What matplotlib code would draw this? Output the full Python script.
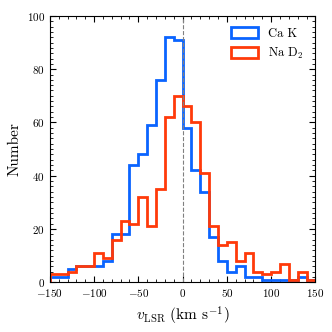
import numpy as np
import matplotlib
matplotlib.use('Agg')
import matplotlib.pyplot as plt

plt.rcParams['font.family'] = 'serif'
plt.rcParams['font.serif'] = ['cmr10', 'DejaVu Serif']
plt.rcParams['mathtext.fontset'] = 'cm'
plt.rcParams['axes.formatter.use_mathtext'] = True

# bin edges (km/s) and counts per bin
bin_edges = np.arange(-150, 151, 10)
ca_k = [2, 2, 5, 6, 6, 6, 8, 18, 18, 44, 48, 59, 76, 92, 91,
        58, 42, 34, 17, 8, 4, 6, 2, 2, 1, 1, 1, 1, 2, 1]
na_d2 = [3, 3, 4, 6, 6, 11, 9, 16, 23, 22, 32, 21, 35, 62, 70,
         66, 60, 41, 21, 14, 15, 8, 11, 4, 3, 4, 7, 1, 4, 1]

blue = '#0a64ff'
red = '#ff3a0a'

fig, ax = plt.subplots(figsize=(3.32, 3.32), dpi=100)
fig.subplots_adjust(left=0.15, right=0.95, bottom=0.15, top=0.952)

centers = 0.5 * (bin_edges[:-1] + bin_edges[1:])
ax.hist(centers, bins=bin_edges, weights=ca_k, histtype='step',
        color=blue, lw=2, label='Ca K')
ax.hist(centers, bins=bin_edges, weights=na_d2, histtype='step',
        color=red, lw=2, label='Na D$_2$')
ax.axvline(0, color='gray', ls='--', lw=0.8)

ax.set_xlim(-150, 150)
ax.set_ylim(0, 100)
ax.set_xticks(np.arange(-150, 151, 50))
ax.set_xticks(np.arange(-150, 151, 10), minor=True)
ax.set_yticks(np.arange(0, 101, 20))
ax.set_yticks(np.arange(0, 101, 2), minor=True)
ax.tick_params(which='both', direction='in', top=True, right=True, labelsize=8)
ax.tick_params(which='major', length=4)
ax.tick_params(which='minor', length=2)

ax.set_xlabel(r'$v_{\rm LSR}$ (km s$^{-1}$)', fontsize=11)
ax.set_ylabel('Number', fontsize=11)

ax.legend(loc='upper right', frameon=False, fontsize=9,
          handlelength=2.2, handleheight=0.9)

fig.savefig('out.png', dpi=100)
